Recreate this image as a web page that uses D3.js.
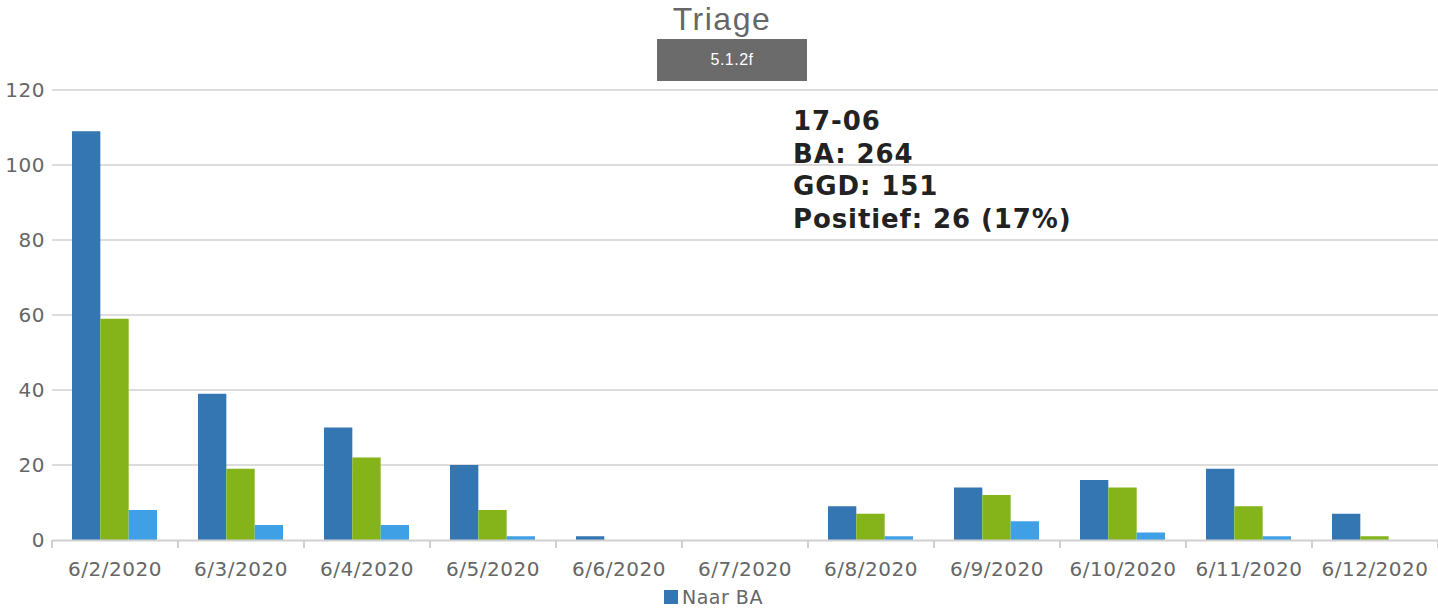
<!DOCTYPE html>
<html>
<head>
<meta charset="utf-8">
<script src="https://cdn.jsdelivr.net/npm/d3@7"></script>
<style>
  html, body { margin: 0; padding: 0; background: #fff; }
  svg { display: block; }
</style>
</head>
<body>
<svg id="chart"></svg>
<script>
// Data
const dates = ["6/2/2020", "6/3/2020", "6/4/2020", "6/5/2020", "6/6/2020", "6/7/2020",
  "6/8/2020", "6/9/2020", "6/10/2020", "6/11/2020", "6/12/2020"];
const seriesNames = ["Naar BA", "Naar GGD", "Positief"];
const naarBA = [109, 39, 30, 20, 1, 0, 9, 14, 16, 19, 7];
const naarGGD = [59, 19, 22, 8, 0, 0, 7, 12, 14, 9, 1];
const positief = [8, 4, 4, 1, 0, 0, 1, 5, 2, 1, 0];
const yTicks = [0, 20, 40, 60, 80, 100, 120];
const noteLines = ["17-06", "BA: 264", "GGD: 151", "Positief: 26 (17%)"];

const width = 1438, height = 610;
const margin = { top: 90, right: 0, bottom: 70, left: 52 };
const colors = ["#3376b2", "#85b41a", "#40a0e6"];
const font = "DejaVu Sans, Verdana, sans-serif";

const svg = d3.select("#chart").attr("width", width).attr("height", height);

const x = d3.scaleBand()
  .domain(dates)
  .range([margin.left, width - margin.right])
  .paddingInner(0)
  .paddingOuter(0);

const inner = d3.scaleBand()
  .domain(seriesNames)
  .range([20, x.bandwidth() - 21]);

const y = d3.scaleLinear()
  .domain([0, 120])
  .range([height - margin.bottom, margin.top]);

// Gridlines
svg.append("g")
  .selectAll("line")
  .data(yTicks.filter(d => d > 0))
  .enter()
  .append("line")
  .attr("x1", margin.left)
  .attr("x2", width - margin.right)
  .attr("y1", d => y(d))
  .attr("y2", d => y(d))
  .attr("stroke", "#dcdcdc")
  .attr("stroke-width", 2);

// Y labels
svg.append("g")
  .selectAll("text")
  .data(yTicks)
  .enter()
  .append("text")
  .attr("x", 45)
  .attr("y", d => y(d) + 7)
  .attr("text-anchor", "end")
  .attr("fill", "#666")
  .attr("font-family", font)
  .attr("font-size", "20px")
  .attr("letter-spacing", "0.5px")
  .text(d => d);

// Bars
const rows = dates.map((d, i) => ({ date: d, values: [naarBA[i], naarGGD[i], positief[i]] }));

const groups = svg.append("g")
  .selectAll("g")
  .data(rows)
  .enter()
  .append("g")
  .attr("transform", d => `translate(${x(d.date)},0)`);

groups.selectAll("rect")
  .data(d => d.values.map((v, j) => ({ name: seriesNames[j], value: v, idx: j })))
  .enter()
  .append("rect")
  .attr("x", d => inner(d.name))
  .attr("y", d => y(d.value))
  .attr("width", inner.bandwidth())
  .attr("height", d => y(0) - y(d.value))
  .attr("fill", d => colors[d.idx]);

// X axis
const xAxis = svg.append("g")
  .attr("transform", `translate(0,${y(0)})`)
  .call(d3.axisBottom(x).tickSize(0).tickPadding(22));

xAxis.select(".domain").attr("stroke", "#d0d0d0").attr("stroke-width", 2);
xAxis.selectAll("text")
  .attr("fill", "#666")
  .attr("font-family", font)
  .attr("font-size", "20px")
  .attr("letter-spacing", "0.5px");

// Category boundary ticks
svg.append("g")
  .selectAll("line")
  .data(dates.concat(["end"]))
  .enter()
  .append("line")
  .attr("x1", (d, i) => margin.left + i * x.bandwidth())
  .attr("x2", (d, i) => margin.left + i * x.bandwidth())
  .attr("y1", y(0))
  .attr("y2", y(0) + 8)
  .attr("stroke", "#d0d0d0")
  .attr("stroke-width", 2);

// Title
svg.append("text")
  .attr("x", 722)
  .attr("y", 30)
  .attr("text-anchor", "middle")
  .attr("fill", "#666")
  .attr("font-family", "Liberation Sans, Arial, sans-serif")
  .attr("font-size", "32px")
  .attr("letter-spacing", "1.5px")
  .text("Triage");

// Version button
svg.append("rect")
  .attr("x", 657)
  .attr("y", 39)
  .attr("width", 150)
  .attr("height", 42)
  .attr("fill", "#6b6b6b");

svg.append("text")
  .attr("x", 732)
  .attr("y", 65)
  .attr("text-anchor", "middle")
  .attr("fill", "#fff")
  .attr("font-family", "Liberation Sans, Arial, sans-serif")
  .attr("font-size", "16px")
  .attr("letter-spacing", "0.5px")
  .text("5.1.2f");

// Annotation
svg.append("g")
  .selectAll("text")
  .data(noteLines)
  .enter()
  .append("text")
  .attr("x", 793)
  .attr("y", (d, i) => 130 + i * 32.7)
  .attr("fill", "#222")
  .attr("font-family", font)
  .attr("font-weight", "bold")
  .attr("font-size", "26px")
  .attr("letter-spacing", "0.9px")
  .text(d => d);

// Legend (only first series shown)
const legend = svg.append("g").attr("transform", "translate(664,590)");
legend.append("rect")
  .attr("width", 14)
  .attr("height", 14)
  .attr("fill", colors[0]);
legend.append("text")
  .attr("x", 18)
  .attr("y", 14)
  .attr("fill", "#666")
  .attr("font-family", font)
  .attr("font-size", "19px")
  .attr("letter-spacing", "0.5px")
  .text(seriesNames[0]);
</script>
</body>
</html>
